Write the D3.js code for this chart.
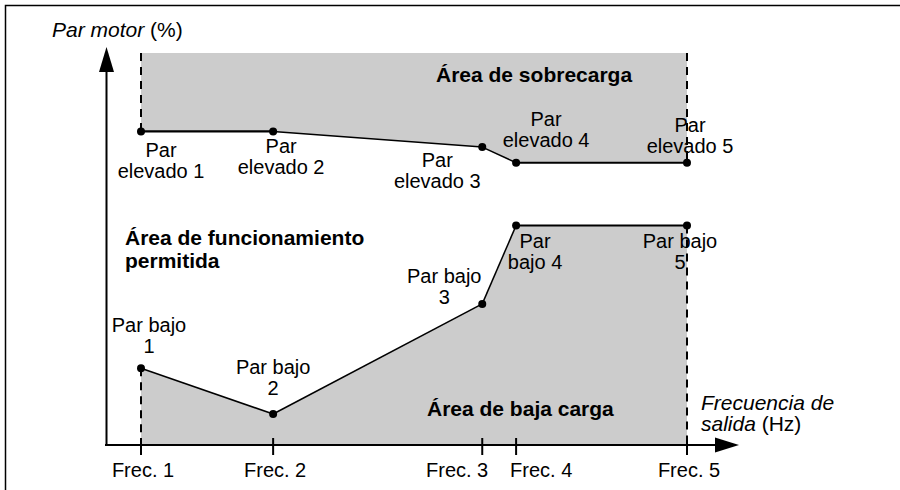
<!DOCTYPE html>
<html>
<head>
<meta charset="utf-8">
<script src="https://cdn.jsdelivr.net/npm/d3@7"></script>
<style>
  body { margin: 0; background: #fff; }
  text { font-family: "Liberation Sans", Arial, Helvetica, sans-serif; fill: #000; }
</style>
</head>
<body>
<div id="chart"></div>
<script>
// frequency points (relative, 0..100 between Frec. 1 and Frec. 5)
var freqLabels = ["Frec. 1", "Frec. 2", "Frec. 3", "Frec. 4", "Frec. 5"];
var freqs = [0, 24.2, 62.5, 68.7, 100];
// motor torque, % of the plotted height
var highTorque = [80, 80, 76, 72, 72];
var lowTorque = [19.6, 7.9, 36, 56, 56];
var highNames = [["Par", "elevado 1"], ["Par", "elevado 2"], ["Par", "elevado 3"], ["Par", "elevado 4"], ["Par", "elevado 5"]];
var lowNames = [["Par bajo", "1"], ["Par bajo", "2"], ["Par bajo", "3"], ["Par", "bajo 4"], ["Par bajo", "5"]];

var width = 900, height = 490;
var x = d3.scaleLinear().domain([0, 100]).range([141, 687]);
var y = d3.scaleLinear().domain([0, 100]).range([445, 53]);

var svg = d3.select("#chart").append("svg")
  .attr("width", width)
  .attr("height", height);

// frame (top + left)
svg.append("path")
  .attr("d", "M5.5,490 L5.5,5.5 L900,5.5")
  .attr("fill", "none")
  .attr("stroke", "#000")
  .attr("stroke-width", 1.5);

var high = freqs.map(function(f, i) { return [f, highTorque[i]]; });
var low = freqs.map(function(f, i) { return [f, lowTorque[i]]; });

// overload area (above the high torque curve)
var areaTop = d3.area()
  .x(function(d) { return x(d[0]); })
  .y0(y(100))
  .y1(function(d) { return y(d[1]); });
svg.append("path").datum(high).attr("d", areaTop).attr("fill", "#cccccc");

// underload area (below the low torque curve)
var areaBottom = d3.area()
  .x(function(d) { return x(d[0]); })
  .y0(y(0))
  .y1(function(d) { return y(d[1]); });
svg.append("path").datum(low).attr("d", areaBottom).attr("fill", "#cccccc");

// dashed edges of both areas
var dashed = [
  [x(freqs[0]), y(100), y(highTorque[0])],
  [x(freqs[4]), y(100), y(highTorque[4])],
  [x(freqs[0]), y(lowTorque[0]), y(0)],
  [x(freqs[4]), y(lowTorque[4]), y(0)]
];
svg.selectAll(".dash").data(dashed).enter().append("line")
  .attr("x1", function(d) { return d[0]; })
  .attr("x2", function(d) { return d[0]; })
  .attr("y1", function(d) { return d[1]; })
  .attr("y2", function(d) { return d[2]; })
  .attr("stroke", "#000")
  .attr("stroke-width", 2)
  .attr("stroke-dasharray", "8,6");

// axes
svg.append("line")
  .attr("x1", 106.5).attr("x2", 106.5)
  .attr("y1", y(0) + 1).attr("y2", 70)
  .attr("stroke", "#000").attr("stroke-width", 2);
svg.append("path")
  .attr("d", "M106.5,47 L99,72 L114,72 Z")
  .attr("fill", "#000");
svg.append("line")
  .attr("x1", 105).attr("x2", 717)
  .attr("y1", y(0)).attr("y2", y(0))
  .attr("stroke", "#000").attr("stroke-width", 2);
svg.append("path")
  .attr("d", "M739," + y(0) + " L715," + (y(0) - 7.5) + " L715," + (y(0) + 7.5) + " Z")
  .attr("fill", "#000");

// ticks and tick labels
svg.selectAll(".tick").data(freqs).enter().append("line")
  .attr("x1", function(d) { return x(d); })
  .attr("x2", function(d) { return x(d); })
  .attr("y1", y(0) - 7)
  .attr("y2", y(0) + 10)
  .attr("stroke", "#000").attr("stroke-width", 2);

svg.selectAll(".ticklabel").data(freqLabels).enter().append("text")
  .attr("x", function(d, i) {
    if (i == 2) return x(freqs[i]) + 6;
    if (i == 3) return x(freqs[i]) - 6;
    return x(freqs[i]) + 2;
  })
  .attr("y", 477)
  .attr("text-anchor", function(d, i) { return i == 2 ? "end" : (i == 3 ? "start" : "middle"); })
  .style("font-size", "20px")
  .text(function(d) { return d; });

// curves, drawn segment by segment (flat parts are heavier)
function segments(pts) {
  var s = [];
  for (var i = 0; i < pts.length - 1; i++) s.push([pts[i], pts[i + 1]]);
  return s;
}
[high, low].forEach(function(pts) {
  svg.append("g").selectAll("line").data(segments(pts)).enter().append("line")
    .attr("x1", function(d) { return x(d[0][0]); })
    .attr("y1", function(d) { return y(d[0][1]); })
    .attr("x2", function(d) { return x(d[1][0]); })
    .attr("y2", function(d) { return y(d[1][1]); })
    .attr("stroke", "#000")
    .attr("stroke-width", function(d) { return d[0][1] == d[1][1] ? 2.2 : 1.5; });
  svg.append("g").selectAll("circle").data(pts).enter().append("circle")
    .attr("cx", function(d) { return x(d[0]); })
    .attr("cy", function(d) { return y(d[1]); })
    .attr("r", 4)
    .attr("fill", "#000");
});

// point labels: offset of first baseline from the point
var highOffsets = [[20, 26], [8, 22], [-45, 20], [30, -37], [3, -31]];
var lowOffsets = [[8, -36], [0, -40], [-38, -21], [19, 23], [-7, 23]];

function pointLabels(pts, names, offsets) {
  var g = svg.append("g");
  pts.forEach(function(p, i) {
    var t = g.append("text")
      .attr("text-anchor", "middle")
      .style("font-size", "20px");
    names[i].forEach(function(line, j) {
      t.append("tspan")
        .attr("x", x(p[0]) + offsets[i][0])
        .attr("y", y(p[1]) + offsets[i][1] + j * 21)
        .text(line);
    });
  });
}
pointLabels(high, highNames, highOffsets);
pointLabels(low, lowNames, lowOffsets);

// region titles
function bold(tx, ty, str) {
  svg.append("text")
    .attr("x", tx).attr("y", ty)
    .style("font-size", "21px")
    .style("font-weight", "bold")
    .text(str);
}
bold(436, 82, "Área de sobrecarga");
bold(125, 245, "Área de funcionamiento");
bold(125, 268, "permitida");
bold(427, 416, "Área de baja carga");

// axis titles
var yt = svg.append("text").attr("x", 52).attr("y", 37).style("font-size", "21px");
yt.append("tspan").style("font-style", "italic").text("Par motor");
yt.append("tspan").text(" (%)");

var xt = svg.append("text").style("font-size", "21px");
xt.append("tspan").attr("x", 701).attr("y", 410).style("font-style", "italic").text("Frecuencia de");
xt.append("tspan").attr("x", 701).attr("y", 431).style("font-style", "italic").text("salida");
xt.append("tspan").text(" (Hz)");
</script>
</body>
</html>
